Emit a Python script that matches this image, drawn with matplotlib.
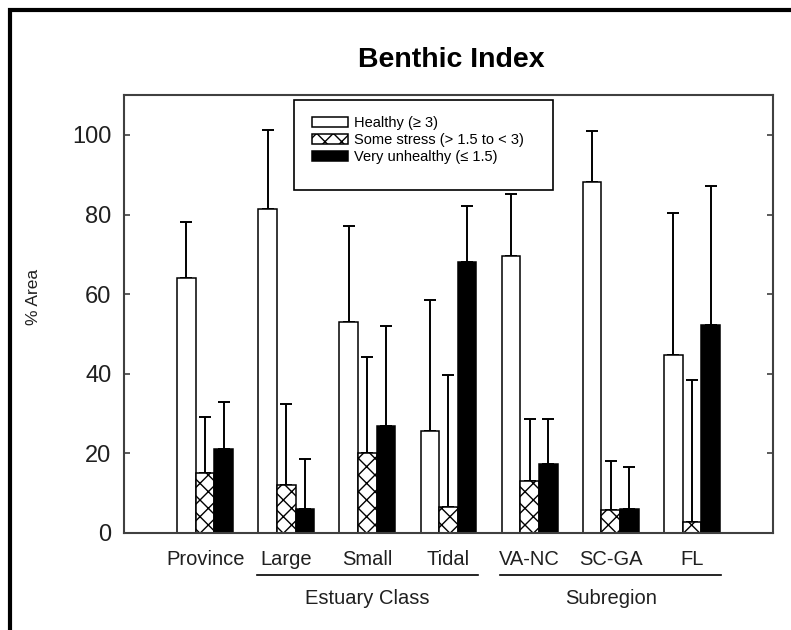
import matplotlib
matplotlib.use("Agg")
import matplotlib.pyplot as plt
import matplotlib.transforms as mtransforms
from matplotlib.patches import Rectangle
import numpy as np

plt.rcParams["font.family"] = ["Liberation Sans", "DejaVu Sans"]
plt.rcParams["hatch.linewidth"] = 1.0

categories = ["Province", "Large", "Small", "Tidal", "VA-NC", "SC-GA", "FL"]
series_names = ["Healthy (\u2265 3)", "Some stress (> 1.5 to < 3)", "Very unhealthy (\u2264 1.5)"]

healthy = [64.0, 81.3, 53.0, 25.6, 69.5, 88.3, 44.8]
stress = [15.0, 12.1, 20.2, 6.5, 13.0, 5.7, 2.7]
unhealthy = [21.0, 6.1, 26.9, 68.0, 17.4, 6.0, 52.3]

# upper end of each error bar (upper confidence limit)
healthy_upper = [78.1, 101.3, 77.1, 58.6, 85.2, 100.9, 80.5]
stress_upper = [29.1, 32.3, 44.2, 39.7, 28.7, 18.2, 38.4]
unhealthy_upper = [33.0, 18.6, 51.9, 82.1, 28.7, 16.6, 87.2]

groups = [("Estuary Class", ["Large", "Small", "Tidal"]),
          ("Subregion", ["VA-NC", "SC-GA", "FL"])]

fig = plt.figure(figsize=(7.91, 6.30), dpi=100)
ax = fig.add_axes([0.1568, 0.154, 0.8204, 0.695])

x = np.arange(1, len(categories) + 1)
width = 0.23
styles = [
    dict(color="white", hatch=None),
    dict(color="white", hatch="xx"),
    dict(color="black", hatch=None),
]
values = [healthy, stress, unhealthy]
uppers = [healthy_upper, stress_upper, unhealthy_upper]

for i, (vals, ups, st, name) in enumerate(zip(values, uppers, styles, series_names)):
    pos = x + (i - 1) * width
    ax.bar(pos, vals, width, color=st["color"], hatch=st["hatch"],
           edgecolor="black", linewidth=1.1, label=name, zorder=2)
    vals = np.array(vals)
    err = np.array(ups) - vals
    ax.errorbar(pos, vals, yerr=[np.zeros_like(err), err], fmt="none",
                ecolor="black", elinewidth=1.4, capsize=4, capthick=1.4, zorder=1)

ax.set_xlim(0, 8)
ax.set_ylim(0, 110)
ax.set_yticks([0, 20, 40, 60, 80, 100])
ax.set_xticks(x, categories)
ax.tick_params(axis="y", direction="in", length=4, width=1.2, labelsize=17, pad=9,
               right=True, colors="#404040", labelcolor="#202020")
ax.tick_params(axis="x", length=0, labelsize=14.5, pad=12, labelcolor="#202020")
for sp in ax.spines.values():
    sp.set_color("#404040")
    sp.set_linewidth(1.5)

ax.set_ylabel("% Area", fontsize=12.5, color="#202020")
ax.yaxis.set_label_coords(-0.128, 0.54)

fig.text(0.571, 0.905, "Benthic Index", ha="center", va="center",
         fontsize=20.5, fontweight="bold")

# group brackets under the category labels
trans = mtransforms.blended_transform_factory(ax.transData, ax.transAxes)
for label, members in groups:
    idx = [categories.index(m) for m in members]
    x0 = x[idx[0]] - 1.5 * width - 0.02
    x1 = x[idx[-1]] + 1.5 * width + 0.02
    ax.plot([x0, x1], [-0.096, -0.096], color="black", lw=1.2,
            transform=trans, clip_on=False)
    ax.text((x0 + x1) / 2, -0.15, label, transform=trans, ha="center",
            va="center", fontsize=14.5, color="#202020")

# legend entries, with the box drawn separately to match its padding
leg = ax.legend(loc="upper left", bbox_to_anchor=(0.2897, 0.952), fontsize=10.5,
                frameon=False, borderpad=0, borderaxespad=0,
                handlelength=2.47, handleheight=0.68, labelspacing=0.2,
                handletextpad=0.42)
leg.set_zorder(5)
ax.add_patch(Rectangle((0.262, 0.783), 0.399, 0.2056, transform=ax.transAxes,
                       facecolor="white", edgecolor="black", linewidth=1.2, zorder=4))

# thick page border on the left and top
fig.add_artist(Rectangle((10 / 791, -0.5), 2, 1.5 - 10 / 630, fill=False,
                         edgecolor="black", linewidth=3, transform=fig.transFigure))

fig.savefig("out.png", dpi=100)
